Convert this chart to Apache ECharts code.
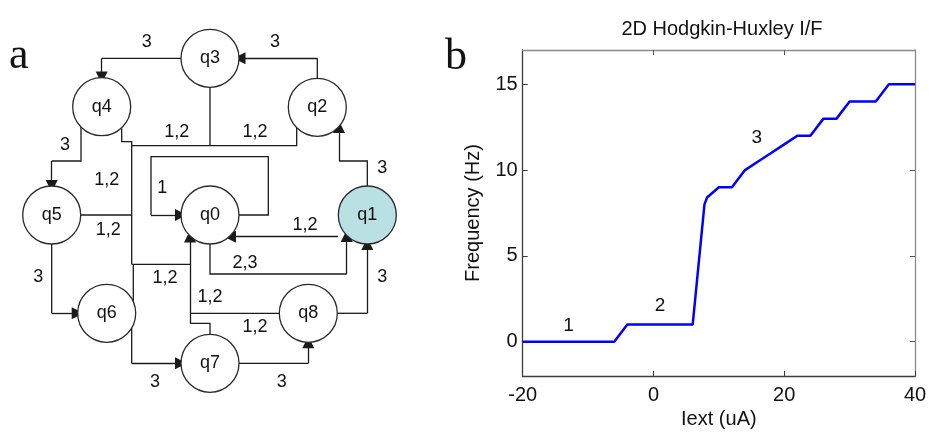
<!DOCTYPE html>
<html><head><meta charset="utf-8">
<script src="https://cdn.jsdelivr.net/npm/echarts@6/dist/echarts.min.js"></script>
<style>html,body{margin:0;padding:0;background:#fff}#c{width:929px;height:434px}</style>
</head><body><div id="c"></div>
<script>
// ---------- Panel a: state diagram (layout in diagram units) ----------
const nodeNames = ['q0','q1','q2','q3','q4','q5','q6','q7','q8'];
const nodeX = [210, 367.3, 317.3, 210, 101.7, 51.7, 106.7, 210, 308.3];
const nodeY = [215, 215, 107.3, 58.3, 106.7, 215, 313.3, 363.3, 313.3];
const highlighted = ['q1'];
// edge paths (arrow = true means arrowhead at the end)
const edgePaths = [
  {pts:[[181,58.3],[101.7,58.3],[101.7,77.5]], arrow:true},            // q3->q4
  {pts:[[317.3,78.5],[317.3,58.3],[239.5,58.3]], arrow:true},          // q2->q3
  {pts:[[81,127],[81,161],[51.7,161],[51.7,186]], arrow:true},         // q4->q5
  {pts:[[367.3,186],[367.3,161],[339,161],[339,127]], arrow:true},     // q1->q2
  {pts:[[239,215],[268.3,215],[268.3,156.7],[151,156.7],[151,215],[181,215]], arrow:true}, // q0 loop
  {pts:[[210,87.3],[210,145.7]], arrow:false},                          // q3 down
  {pts:[[296.7,128],[296.7,145.7],[131.7,145.7]], arrow:false},         // q2 merge
  {pts:[[121.7,128.5],[121.7,141.7],[131.7,141.7],[131.7,264.3]], arrow:false}, // q4 merge
  {pts:[[81,215],[131.7,215]], arrow:false},                            // q5 merge
  {pts:[[133.3,302],[133.3,264.3]], arrow:false},                       // q6 merge
  {pts:[[131.7,264.3],[190,264.3]], arrow:false},
  {pts:[[190,323.3],[190,236.5]], arrow:true},                          // into q0
  {pts:[[279.3,313.3],[190,313.3]], arrow:false},                       // q8 merge
  {pts:[[210,334.3],[210,323.3],[190,323.3]], arrow:false},             // q7 merge
  {pts:[[338,236.7],[230,236.7]], arrow:true},                          // q1->q0
  {pts:[[210,244],[210,274],[346.7,274],[346.7,236]], arrow:true},      // q0->q1
  {pts:[[337.3,313.3],[367.3,313.3],[367.3,244]], arrow:true},          // q8->q1
  {pts:[[51.7,244],[51.7,313.3],[77.7,313.3]], arrow:true},             // q5->q6
  {pts:[[131.7,328],[131.7,363.3],[181,363.3]], arrow:true},            // q6->q7
  {pts:[[239,363.3],[308.3,363.3],[308.3,342.3]], arrow:true}           // q7->q8
];
const edgeLabelText = ['3','3','3','3','1','1,2','1,2','1,2','1,2','1,2','1,2','1,2','1,2','2,3','3','3','3','3'];
const edgeLabelX = [146.7,275,65,382.3,162.3,176.7,255,106.7,108.3,165,210,255,305,245,382.3,38.3,155,281.7];
const edgeLabelY = [41.7,41.7,145,168.3,188.3,131.7,131.7,180,230,278.3,296.7,326.7,225,263.3,277.3,276.7,381.7,381.7];

// ---------- Panel b: I/F curve ----------
const iext = [-20,-6,-4,6,7.8,8.2,10,12,14,16,18,20,22,24,26,28,30,34,36,40];
const freq = [0,0,1,1,8,8.4,9,9,10,10.5,11,11.5,12,12,13,13,14,14,15,15];
const regionText = ['1','2','3'];
const regionX = [-13,1,15.8];
const regionY = [0.9,2.1,11.9];
const yTicks = [0,5,10,15];

const FONT = 'Liberation Sans, Arial, sans-serif';
const TXT = '#111';
const EDGE = '#1a1a1a';
const chart = echarts.init(document.getElementById('c'), null, {renderer:'canvas'});

// polyline bodies (all but last segment for arrow edges) + last segment with arrowhead
const bodyLines = [];
const headLines = [];
edgePaths.forEach(e=>{
  const n = e.pts.length;
  if (e.arrow) {
    if (n > 2) bodyLines.push({coords:e.pts.slice(0, n-1)});
    headLines.push({coords:[e.pts[n-2], e.pts[n-1]]});
  } else {
    bodyLines.push({coords:e.pts});
  }
});

chart.setOption({
  animation:false,
  backgroundColor:'#fff',
  title:{text:'2D Hodgkin-Huxley I/F', left:717, top:14, textAlign:'center',
    textStyle:{fontFamily:FONT,fontSize:20,fontWeight:'normal',color:TXT}},
  graphic:[
    {type:'text', x:9, y:34, style:{text:'a', font:'44px "Liberation Serif", serif', fill:'#111', textVerticalAlign:'alphabetic'}},
    {type:'text', x:445, y:35, style:{text:'b', font:'44px "Liberation Serif", serif', fill:'#111', textVerticalAlign:'alphabetic'}}
  ],
  grid:[
    {left:0, top:0, width:420, height:434, outerBoundsMode:'none', containLabel:false},
    {left:522.7, top:50, width:392.3, height:326, outerBoundsMode:'none', containLabel:false}
  ],
  xAxis:[
    {gridIndex:0, type:'value', min:0, max:420, show:false},
    {gridIndex:1, type:'value', min:-20, max:40, interval:20, position:'bottom',
      axisLine:{show:true, onZero:false, lineStyle:{color:'#3c3c3c', width:1.3}},
      axisTick:{show:true, inside:true, length:5, lineStyle:{color:'#3c3c3c'}},
      axisLabel:{show:true, margin:9, fontFamily:FONT, fontSize:20, color:TXT},
      splitLine:{show:false},
      name:'Iext (uA)', nameLocation:'middle', nameGap:31,
      nameTextStyle:{fontFamily:FONT, fontSize:20, color:TXT}},
    {gridIndex:1, type:'value', min:-20, max:40, interval:20, position:'top',
      axisLine:{show:true, onZero:false, lineStyle:{color:'#8a8a8a', width:1.3}},
      axisTick:{show:true, inside:true, length:5, customValues:[0,20], lineStyle:{color:'#555'}},
      axisLabel:{show:false}, splitLine:{show:false}}
  ],
  yAxis:[
    {gridIndex:0, type:'value', min:0, max:434, inverse:true, show:false},
    {gridIndex:1, type:'value', min:-2, max:17, position:'left',
      axisLine:{show:true, onZero:false, lineStyle:{color:'#3c3c3c', width:1.3}},
      axisTick:{show:true, inside:true, length:5, customValues:yTicks, lineStyle:{color:'#3c3c3c'}},
      axisLabel:{show:true, margin:5, customValues:yTicks, fontFamily:FONT, fontSize:20, color:TXT},
      splitLine:{show:false},
      name:'Frequency (Hz)', nameLocation:'middle', nameGap:39, nameRotate:90,
      nameTextStyle:{fontFamily:FONT, fontSize:20, color:TXT}},
    {gridIndex:1, type:'value', min:-2, max:17, position:'right',
      axisLine:{show:true, onZero:false, lineStyle:{color:'#8a8a8a', width:1.3}},
      axisTick:{show:true, inside:true, length:5, customValues:yTicks, lineStyle:{color:'#555'}},
      axisLabel:{show:false}, splitLine:{show:false}}
  ],
  series:[
    {type:'lines', coordinateSystem:'cartesian2d', xAxisIndex:0, yAxisIndex:0, polyline:true, z:2,
      lineStyle:{color:EDGE, width:1.3, opacity:1}, data:bodyLines},
    {type:'lines', coordinateSystem:'cartesian2d', xAxisIndex:0, yAxisIndex:0, polyline:false, z:2,
      symbol:['none','triangle'], symbolSize:[1,12], symbolKeepAspect:true,
      lineStyle:{color:EDGE, width:1.3, opacity:1, curveness:0}, data:headLines},
    {type:'scatter', xAxisIndex:0, yAxisIndex:0, z:3, symbol:'circle', symbolSize:58,
      itemStyle:{opacity:1},
      data:nodeNames.map((n,i)=>({name:n, value:[nodeX[i],nodeY[i]],
        itemStyle:{opacity:1, color: highlighted.includes(n)?'#b9e0e3':'#ffffff', borderColor:'#2a2a2a', borderWidth:1.3}})),
      label:{show:true, position:'inside', formatter:'{b}', fontFamily:FONT, fontSize:18, color:TXT},
      emphasis:{disabled:true}},
    {type:'scatter', xAxisIndex:0, yAxisIndex:0, z:4, symbolSize:0, itemStyle:{opacity:1},
      data:edgeLabelText.map((t,i)=>({name:t, value:[edgeLabelX[i],edgeLabelY[i]]})),
      label:{show:true, position:'inside', formatter:'{b}', fontFamily:FONT, fontSize:18, color:TXT},
      emphasis:{disabled:true}},
    {type:'line', xAxisIndex:1, yAxisIndex:1, data:iext.map((x,i)=>[x,freq[i]]),
      showSymbol:false, symbol:'none', lineStyle:{color:'#0000ff', width:2.5}, z:5},
    {type:'scatter', xAxisIndex:1, yAxisIndex:1, symbolSize:0, z:6, itemStyle:{opacity:1},
      data:regionText.map((t,i)=>({name:t, value:[regionX[i],regionY[i]]})),
      label:{show:true, position:'inside', formatter:'{b}', fontFamily:FONT, fontSize:19, color:TXT},
      emphasis:{disabled:true}}
  ]
});
</script></body></html>
